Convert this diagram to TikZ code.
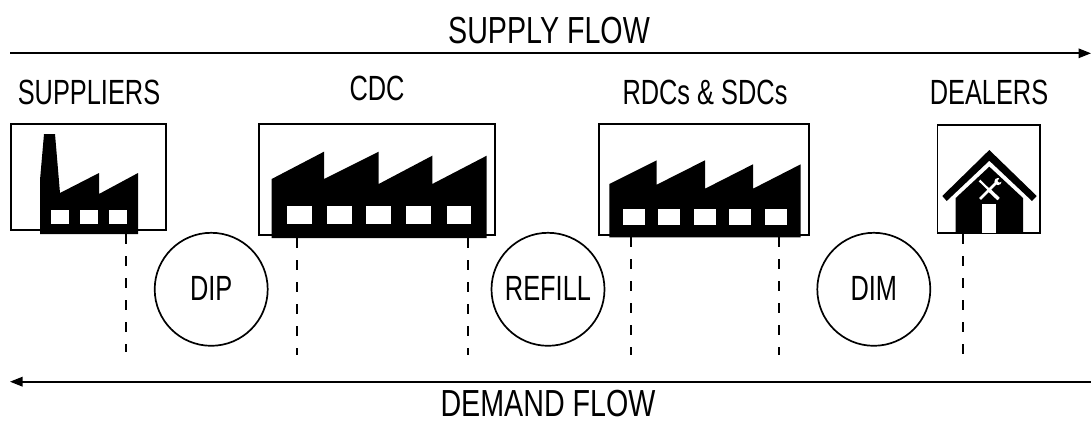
\documentclass[tikz,border=0pt]{standalone}
\usepackage{fontspec}
\setmainfont[FakeStretch=0.725]{Liberation Sans}
\newfontfamily\headfont[FakeStretch=0.76]{Liberation Sans}
\usetikzlibrary{arrows.meta}
\tikzset{
 x=1pt,y=-1pt,
 frame/.style={draw=black,line width=1.7pt,inner sep=0,outer sep=0,minimum width=#1},
 flow/.style={draw=black,line width=1.7pt,-{Triangle[length=12.5pt,width=9.5pt]}},
 tie/.style={draw=black,line width=1.7pt,dash pattern=on 10pt off 12pt},
 hub/.style={draw=black,circle,line width=1.7pt,minimum size=113pt,inner sep=0,font=\fontsize{35}{35}\selectfont},
 lab/.style={inner sep=0,font=\fontsize{35}{35}\selectfont,anchor=center},
 head/.style={inner sep=0,font=\headfont\fontsize{37.7}{38}\selectfont,anchor=center},
 pane/.style={fill=white,draw=none},
 solid/.style={fill=black,draw=none}
}
\begin{document}
\begin{tikzpicture}
\useasboundingbox (0,0) rectangle (1091,423);
\node[head] (supply) at (549,30.5) {SUPPLY FLOW};
\node[head] (demand) at (548,404) {DEMAND FLOW};
\coordinate (sl) at (10,53.3); \coordinate (sr) at (1091,53.3);
\coordinate (dr) at (1091,381.7); \coordinate (dl) at (10,381.7);
\draw[flow] (sl) -- (sr);
\draw[flow] (dr) -- (dl);
\node[lab] (lsup) at (89,92.5) {SUPPLIERS};
\node[lab] (lcdc) at (377,88) {CDC};
\node[lab] (lrdc) at (705,92.5) {RDCs \& SDCs};
\node[lab] (ldea) at (989,92.5) {DEALERS};
\node[frame=155pt,minimum height=106pt] (b1) at (88.5,177) {};
\node[frame=236.5pt,minimum height=111pt] (b2) at (377,179.5) {};
\node[frame=210pt,minimum height=110.5pt] (b3) at (703.7,179.5) {};
\node[frame=102.7pt,minimum height=108pt] (b4) at (988.7,179) {};
% factory 1
\fill[solid] (40,234) -- (40,180) -- (44,134) -- (55,134) -- (60,193) -- (99,173) -- (99,194) -- (138,173) -- (138,234) -- cycle;
\foreach \a in {51,80,109.3} \fill[pane] (\a,210) rectangle +(17.5,14);
% factory 2
\fill[solid] (271.7,238) -- (271.7,179) -- (324,151.7) -- (324,179) -- (378.7,151.7) -- (378.7,184) -- (432.3,155.7) -- (432.3,184) -- (486.7,155.7) -- (486.7,238) -- cycle;
\foreach \a in {287,327,366.3,406.3,446.7} \fill[pane] (\a,206.3) rectangle +(24.5,18);
% factory 3
\fill[solid] (609.3,237.3) -- (609.3,184) -- (656.7,160.3) -- (656.7,184.7) -- (705,160.3) -- (705,188.7) -- (753,164.3) -- (753,188.7) -- (800.7,164.3) -- (800.7,237.3) -- cycle;
\foreach \a in {623,658.3,693.7,729.3,765} \fill[pane] (\a,208.7) rectangle +(22,16.3);
% dealer
\fill[solid] (989.3,150) -- (1036.7,196) -- (1032,201) -- (989.3,160.7) -- (946.7,201) -- (942.3,196) -- cycle;
\fill[solid] (955.7,233) -- (955.7,198) -- (989.3,166.7) -- (1023,198) -- (1023,233) -- cycle;
\fill[pane] (982.3,204.3) rectangle (996,233);
\draw[white,line width=2.2pt] (979.5,180.5) -- (998.5,199);
\draw[white,line width=3.4pt] (988,189) -- (998.5,199);
\draw[white,line width=2.6pt] (980,199) -- (997,182);
\fill[white] (998,181.5) circle (3.6pt);
\fill[black] (1000,177.5) -- (1003.5,181) -- (999,182.5) -- (997.5,181) -- cycle;
% dashed ties
\foreach \n/\x/\t/\b in {a/125.7/234/352,b/296.7/238/355,c/468/238/355,d/631/237.3/355,e/778.7/237.3/355,f/962.7/234/355}{
 \coordinate (t\n) at (\x,\t); \coordinate (u\n) at (\x,\b);
 \draw[tie] (t\n) -- (u\n);
}
\node[hub] (dip) at (211.2,289.3) {\raisebox{2pt}{DIP}};
\node[hub] (refill) at (548,289.3) {\raisebox{2pt}{REFILL}};
\node[hub] (dim) at (873.8,289.3) {\raisebox{2pt}{DIM}};
\end{tikzpicture}
\end{document}
